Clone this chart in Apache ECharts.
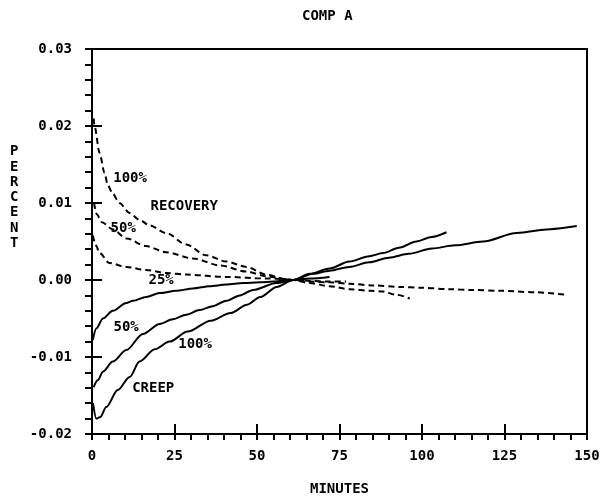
<!DOCTYPE html>
<html>
<head>
<meta charset="utf-8">
<script src="https://cdn.jsdelivr.net/npm/echarts@6/dist/echarts.min.js"></script>
<style>
  html, body { margin: 0; padding: 0; background: #fff; }
  #chart { width: 601px; height: 497px; }
</style>
</head>
<body>
<div id="chart"></div>
<script>
// minutes, percent
var creep100 = [[0.3, -0.0160], [1.3, -0.0180], [2.5, -0.0178], [4.3, -0.0165], [7.8, -0.0143], [11.4, -0.0126],
  [14.4, -0.0106], [19, -0.0090], [23.5, -0.0080], [29, -0.0067], [36, -0.0053], [42, -0.0043], [47, -0.0032],
  [51, -0.0022], [56, -0.0009], [61, 0], [67, 0.0008], [72, 0.0012], [78, 0.0017], [84, 0.0023], [90, 0.0029],
  [96, 0.0034], [103, 0.0041], [110, 0.0045], [118.5, 0.0050], [128.7, 0.0061], [138.8, 0.0066], [146.9, 0.0070]];
var creep50 = [[0.5, -0.0139], [1.8, -0.0130], [3.3, -0.0119], [6.3, -0.0106], [10.4, -0.0091], [15.4, -0.0070],
  [20.5, -0.0057], [24.5, -0.0051], [28.6, -0.0045], [32.6, -0.0039], [36.6, -0.0034], [40.7, -0.0027],
  [44.8, -0.0020], [48.8, -0.0013], [55.9, -0.0004], [61, 0], [66, 0.0008], [72, 0.0015], [78, 0.0024],
  [84, 0.0031], [88.2, 0.0035], [93, 0.0042], [98.3, 0.0050], [103, 0.0056], [107.4, 0.0062]];
var creep25 = [[0.25, -0.0078], [1.3, -0.0063], [3.3, -0.0050], [6.3, -0.0040], [10.4, -0.0030], [12.4, -0.0027],
  [16.4, -0.0022], [20.5, -0.0017], [25.5, -0.0014], [30.6, -0.0011], [35.6, -0.0008], [40.7, -0.0006],
  [45.8, -0.0004], [50.8, -0.0003], [55, -0.0002], [61, 0], [66, 0.0002], [72, 0.0004]];
var recovery100 = [[0.5, 0.0210], [0.8, 0.0199], [2.3, 0.0165], [3.8, 0.0139], [4.8, 0.0123], [6.3, 0.0112],
  [8.3, 0.0100], [11.4, 0.0087], [14.4, 0.0078], [17.4, 0.0071], [22.5, 0.0061], [28.6, 0.0046], [34.6, 0.0032],
  [40.7, 0.0024], [46.8, 0.0017], [52.8, 0.0007], [58.9, 0.0001], [61, 0], [66, -0.0002], [72, -0.0003],
  [78.1, -0.0005], [85, -0.0007], [93.3, -0.0009], [100, -0.0010], [108.4, -0.0012], [115, -0.0013],
  [123.6, -0.0014], [134.7, -0.0016], [143.3, -0.0019]];
var recovery50 = [[0.6, 0.0100], [1.5, 0.0085], [3, 0.0075], [6.2, 0.0066], [10.4, 0.0054], [16.4, 0.0044],
  [22.5, 0.0036], [30.6, 0.0028], [38.7, 0.0019], [46.8, 0.0011], [52.8, 0.0005], [58.9, 0.0001], [61, 0],
  [66, -0.0004], [72, -0.0008], [78.1, -0.0012], [84.2, -0.0014], [88.2, -0.0015], [92, -0.0019], [96.3, -0.0024]];
var recovery25 = [[0.25, 0.0058], [1.2, 0.0045], [2.3, 0.0035], [5.3, 0.0022], [10.4, 0.0017], [16.4, 0.0013],
  [22.5, 0.0009], [28.6, 0.0007], [40.7, 0.0004], [52.8, 0.0002], [58.9, 0.0001], [61, 0], [66, -0.0001],
  [72, -0.0002], [77, -0.0002]];
var notes = [
  { name: '100%', value: [11.7, 0.0132] },
  { name: 'RECOVERY', value: [28.1, 0.0095] },
  { name: '50%', value: [9.6, 0.0066] },
  { name: '25%', value: [21.1, -0.0001] },
  { name: '50%', value: [10.5, -0.0062] },
  { name: '100%', value: [31.4, -0.0084] },
  { name: 'CREEP', value: [18.7, -0.0142] }
];
var xTicks = [0, 25, 50, 75, 100, 125, 150];
var yTicks = [-0.02, -0.01, 0.00, 0.01, 0.02, 0.03];

var font = 'DejaVu Sans Mono';
var ink = '#000';

function curve(data, dash) {
  return {
    type: 'line', data: data, showSymbol: false, symbol: 'none',
    smooth: 0.3, smoothMonotone: 'x',
    lineStyle: { color: ink, width: 2, type: dash ? [6, 4] : 'solid' }
  };
}

var myChart = echarts.init(document.getElementById('chart'));
var option = {
  animation: false,
  backgroundColor: '#fff',
  grid: {
    left: 92, right: 14, top: 49, bottom: 63,
    outerBoundsMode: 'none',
    show: true, borderColor: ink, borderWidth: 2
  },
  graphic: [
    {
      type: 'text', left: 327 - 25, top: 9,
      style: { text: 'COMP A', font: 'bold 14px ' + font, fill: ink }
    },
    {
      type: 'text', left: 10, top: 144,
      style: { text: 'P\nE\nR\nC\nE\nN\nT', font: 'bold 14px ' + font, fill: ink, lineHeight: 15.3 }
    }
  ],
  xAxis: [
    {
      type: 'value', min: xTicks[0], max: xTicks[xTicks.length - 1], interval: 25,
      name: 'MINUTES', nameLocation: 'middle', nameGap: 48,
      nameTextStyle: { fontFamily: font, fontWeight: 'bold', fontSize: 14, color: ink },
      axisLine: { show: true, onZero: false, lineStyle: { color: ink, width: 2 } },
      axisTick: { show: true, inside: true, length: 10, lineStyle: { color: ink, width: 2 } },
      axisLabel: { margin: 15, fontFamily: font, fontWeight: 'bold', fontSize: 14, color: ink },
      splitLine: { show: false }
    },
    {
      type: 'value', position: 'bottom', min: 0, max: 150, interval: 5,
      axisLine: { show: false, onZero: false },
      axisTick: { show: true, inside: false, length: 6, lineStyle: { color: ink, width: 2 } },
      axisLabel: { show: false },
      splitLine: { show: false }
    }
  ],
  yAxis: [
    {
      type: 'value', min: yTicks[0], max: yTicks[yTicks.length - 1], interval: 0.01,
      axisLine: { show: true, onZero: false, lineStyle: { color: ink, width: 2 } },
      axisTick: { show: true, inside: true, length: 10, lineStyle: { color: ink, width: 2 } },
      axisLabel: {
        margin: 20, fontFamily: font, fontWeight: 'bold', fontSize: 14, color: ink,
        formatter: function (v) { return v.toFixed(2); }
      },
      splitLine: { show: false }
    },
    {
      type: 'value', position: 'left', min: -0.02, max: 0.03, interval: 0.002,
      axisLine: { show: false, onZero: false },
      axisTick: { show: true, inside: false, length: 7, lineStyle: { color: ink, width: 2 } },
      axisLabel: { show: false },
      splitLine: { show: false }
    }
  ],
  series: [
    curve(creep100, false),
    curve(creep50, false),
    curve(creep25, false),
    curve(recovery100, true),
    curve(recovery50, true),
    curve(recovery25, true),
    {
      type: 'scatter', data: notes, symbolSize: 1, silent: true,
      itemStyle: { color: 'rgba(0,0,0,0)', opacity: 1 },
      label: {
        show: true, position: [0, 0], align: 'center', verticalAlign: 'middle',
        formatter: '{b}', textBorderWidth: 0,
        fontFamily: font, fontWeight: 'bold', fontSize: 14, color: ink
      }
    }
  ]
};
myChart.setOption(option);
</script>
</body>
</html>
